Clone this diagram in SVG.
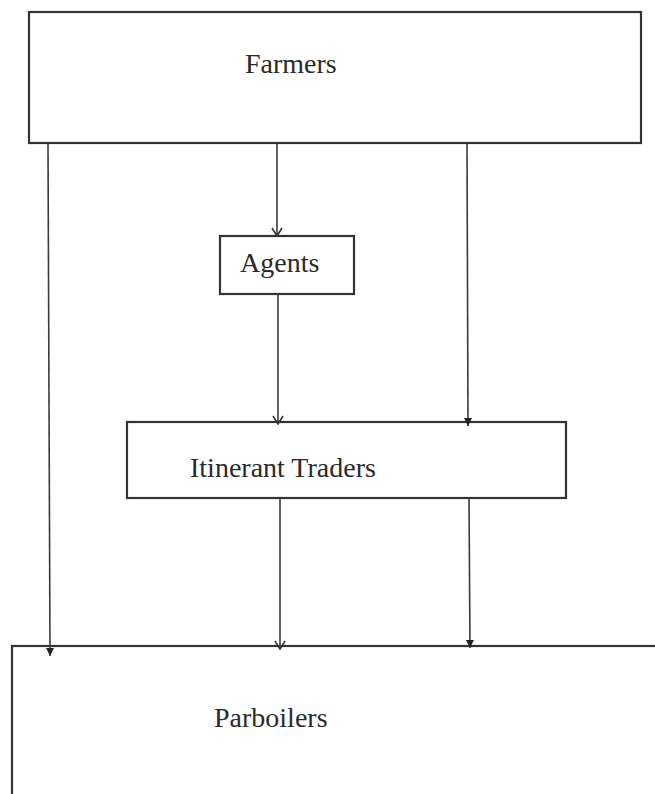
<svg xmlns="http://www.w3.org/2000/svg" width="655" height="794" viewBox="0 0 655 794">
<style>
.box{fill:#fff;stroke:#333;stroke-width:2.2}
.lbl{font-family:"Liberation Serif","Times New Roman",serif;font-size:28px;fill:#2a2a2a}
.ln{stroke:#3a3a3a;stroke-width:1.6;fill:none}
</style>
<defs>
<marker id="vee" markerWidth="12" markerHeight="12" refX="11" refY="6" orient="auto" markerUnits="userSpaceOnUse" viewBox="0 0 12 12">
<path d="M3,1 L11,6 L3,11" fill="none" stroke="#333" stroke-width="1.6"/>
</marker>
<marker id="tri" markerWidth="10" markerHeight="10" refX="10" refY="5" orient="auto" markerUnits="userSpaceOnUse" viewBox="0 0 10 10">
<path d="M2,1 L10,5 L2,9 Z" fill="#222"/>
</marker>
</defs>
<rect width="655" height="794" fill="#fff"/>
<g id="farmers"><rect class="box" x="29" y="12" width="612" height="131"/><text class="lbl" x="245" y="73">Farmers</text></g>
<g id="agents"><rect class="box" x="220" y="236" width="134" height="58"/><text class="lbl" x="240" y="272">Agents</text></g>
<g id="itinerant-traders"><rect class="box" x="127" y="422" width="439" height="76"/><text class="lbl" x="190" y="477">Itinerant Traders</text></g>
<g id="parboilers"><rect class="box" x="12" y="646" width="660" height="170"/><text class="lbl" x="214" y="727">Parboilers</text></g>
<g id="connectors">
<line class="ln" x1="48" y1="143" x2="50" y2="656" marker-end="url(#tri)"/>
<line class="ln" x1="277" y1="143" x2="277" y2="236" marker-end="url(#vee)"/>
<line class="ln" x1="467" y1="143" x2="468" y2="426" marker-end="url(#tri)"/>
<line class="ln" x1="278" y1="294" x2="278" y2="424" marker-end="url(#vee)"/>
<line class="ln" x1="280" y1="498" x2="280" y2="649" marker-end="url(#vee)"/>
<line class="ln" x1="469" y1="498" x2="470" y2="648" marker-end="url(#tri)"/>
</g>
</svg>
